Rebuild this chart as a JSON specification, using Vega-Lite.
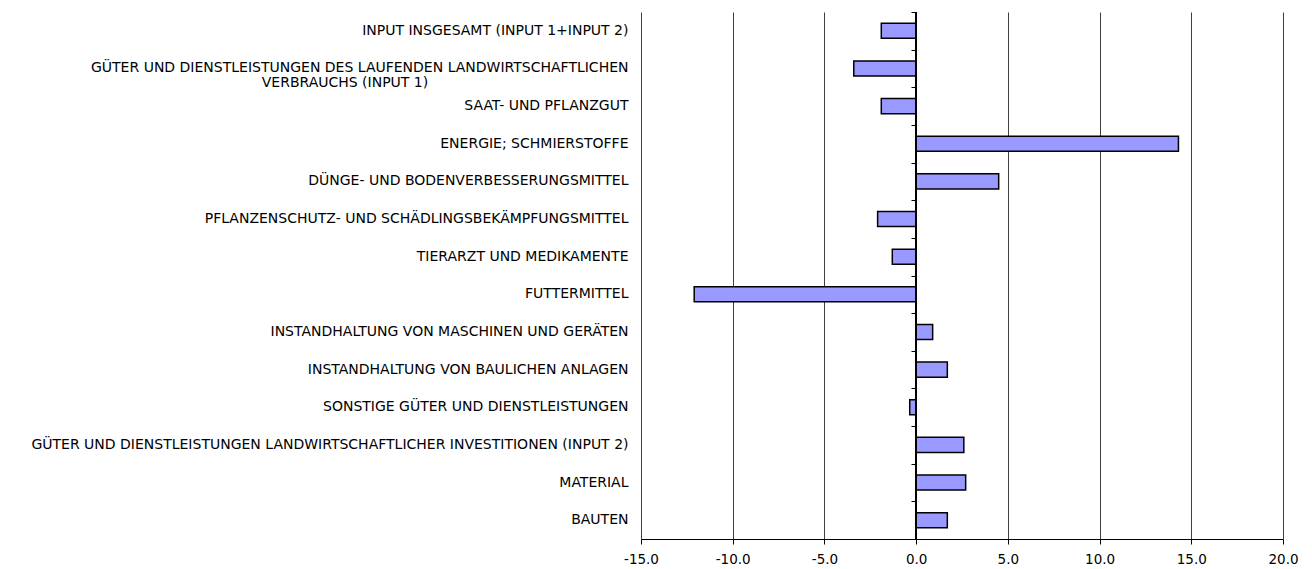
{
  "$schema": "https://vega.github.io/schema/vega-lite/v6.json",
  "autosize": {"type": "none"},
  "padding": {"left": 641, "top": 12, "right": 29, "bottom": 30},
  "width": 642,
  "height": 527,
  "background": "white",
  "config": {
    "view": {"stroke": null},
    "font": "DejaVu Sans",
    "axis": {"labelFont": "DejaVu Sans", "labelColor": "black"}
  },
  "data": {
    "values": [
      {"kategorie": "INPUT INSGESAMT (INPUT 1+INPUT 2)", "wert": -1.9},
      {"kategorie": "GÜTER UND DIENSTLEISTUNGEN DES LAUFENDEN LANDWIRTSCHAFTLICHEN|VERBRAUCHS (INPUT 1)\u00a0\u00a0\u00a0\u00a0\u00a0\u00a0\u00a0\u00a0\u00a0\u00a0\u00a0\u00a0\u00a0\u00a0\u00a0\u00a0\u00a0\u00a0\u00a0\u00a0\u00a0\u00a0\u00a0\u00a0\u00a0\u00a0\u00a0\u00a0\u00a0\u00a0\u00a0\u00a0\u00a0\u00a0\u00a0\u00a0\u00a0\u00a0\u00a0\u00a0\u00a0\u00a0\u00a0\u00a0\u00a0\u200b", "wert": -3.4},
      {"kategorie": "SAAT- UND PFLANZGUT", "wert": -1.9},
      {"kategorie": "ENERGIE; SCHMIERSTOFFE", "wert": 14.3},
      {"kategorie": "DÜNGE- UND BODENVERBESSERUNGSMITTEL", "wert": 4.5},
      {"kategorie": "PFLANZENSCHUTZ- UND SCHÄDLINGSBEKÄMPFUNGSMITTEL", "wert": -2.1},
      {"kategorie": "TIERARZT UND MEDIKAMENTE", "wert": -1.3},
      {"kategorie": "FUTTERMITTEL", "wert": -12.1},
      {"kategorie": "INSTANDHALTUNG VON MASCHINEN UND GERÄTEN", "wert": 0.9},
      {"kategorie": "INSTANDHALTUNG VON BAULICHEN ANLAGEN", "wert": 1.7},
      {"kategorie": "SONSTIGE GÜTER UND DIENSTLEISTUNGEN", "wert": -0.35},
      {"kategorie": "GÜTER UND DIENSTLEISTUNGEN LANDWIRTSCHAFTLICHER INVESTITIONEN (INPUT 2)", "wert": 2.6},
      {"kategorie": "MATERIAL", "wert": 2.7},
      {"kategorie": "BAUTEN", "wert": 1.7}
    ]
  },
  "layer": [
    {
      "mark": {"type": "bar", "color": "#9999FF", "stroke": "black", "strokeWidth": 1.5, "height": {"band": 0.4}},
      "encoding": {
        "y": {
          "field": "kategorie", "type": "nominal", "sort": null,
          "scale": {"paddingInner": 0, "paddingOuter": 0},
          "axis": {
            "title": null, "ticks": false, "domain": false,
            "labelFontSize": 14, "labelPadding": 13, "labelLimit": 800,
            "labelLineHeight": 15, "labelBaseline": "middle",
            "labelExpr": "split(datum.label, '|')"
          }
        },
        "x": {
          "field": "wert", "type": "quantitative",
          "scale": {"domain": [-15, 20], "nice": false, "zero": false},
          "axis": {
            "title": null, "values": [-15, -10, -5, 0, 5, 10, 15, 20],
            "labelExpr": "datum.value < 0 ? '-' + format(-datum.value, '.1f') : format(datum.value, '.1f')",
            "grid": true, "gridColor": "#404040", "gridWidth": 1,
            "gridOpacity": 1, "domainColor": "black", "tickColor": "black",
            "tickSize": 5, "labelFontSize": 13.5, "labelPadding": 8,
            "labelFlush": false
          }
        }
      }
    },
    {
      "mark": {"type": "bar", "opacity": 0, "height": {"band": 0.4}},
      "encoding": {
        "x": {"field": "wert", "type": "quantitative"},
        "y": {
          "field": "kategorie", "type": "nominal", "sort": null,
          "axis": {
            "title": null, "labels": false, "domain": true, "domainColor": "black",
            "ticks": true, "tickBand": "extent", "tickSize": 5, "tickColor": "black",
            "offset": -275, "orient": "left"
          }
        }
      }
    },
    {
      "mark": {"type": "rule", "color": "black", "strokeWidth": 1},
      "encoding": {"x": {"datum": 0, "type": "quantitative"}}
    }
  ],
  "resolve": {"axis": {"y": "independent"}}
}
